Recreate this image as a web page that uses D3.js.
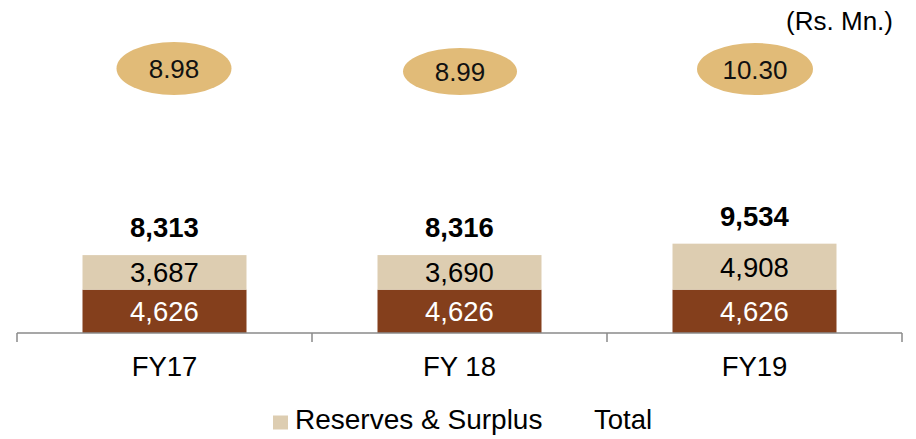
<!DOCTYPE html>
<html>
<head>
<meta charset="utf-8">
<script src="https://cdn.jsdelivr.net/npm/d3@7"></script>
<style>
  html, body { margin: 0; padding: 0; background: #fff; }
  svg { display: block; font-family: "Liberation Sans", Arial, sans-serif; }
</style>
</head>
<body>
<svg id="chart" width="916" height="439"></svg>
<script>
// Net worth composition (Rs. Mn.)
const categories = ["FY17", "FY 18", "FY19"];
const shareCapital = [4626, 4626, 4626];
const reservesSurplus = [3687, 3690, 4908];
const totals = [8313, 8316, 9534];
const ovalValues = ["8.98", "8.99", "10.30"];
const legendLabels = ["Reserves & Surplus", "Total"];

// Layout tweaks for the oval callouts (x nudge, centre y, radii)
const ovalLayout = [
  { dx: 9.5, cy: 68.5, rx: 57.5, ry: 26.5 },
  { dx: 0.5, cy: 71.5, rx: 57, ry: 23.5 },
  { dx: 0.5, cy: 69, rx: 58, ry: 26 }
];

const colors = { capital: "#843f1c", reserves: "#ddcdb1", oval: "#e1bb78", axis: "#8a8a8a" };

const svg = d3.select("#chart");
const axisY = 333;

const x = d3.scaleBand().domain(categories).range([17, 902]).paddingInner(0).paddingOuter(0);
const y = d3.scaleLinear().domain([0, 10000]).range([axisY, axisY - 93.7]);
const barW = 164;

const rows = categories.map((c, i) => ({
  cat: c, cap: shareCapital[i], res: reservesSurplus[i], total: totals[i],
  oval: ovalValues[i], lay: ovalLayout[i]
}));

const fmt = d3.format(",");
const cx = d => x(d.cat) + x.bandwidth() / 2;

// Share capital (bottom segment)
svg.selectAll("rect.cap").data(rows).join("rect")
  .attr("class", "cap")
  .attr("x", d => cx(d) - barW / 2)
  .attr("width", barW)
  .attr("y", d => y(d.cap))
  .attr("height", d => y(0) - y(d.cap))
  .attr("fill", colors.capital);

// Reserves & surplus (top segment)
svg.selectAll("rect.res").data(rows).join("rect")
  .attr("class", "res")
  .attr("x", d => cx(d) - barW / 2)
  .attr("width", barW)
  .attr("y", d => y(d.cap + d.res))
  .attr("height", d => y(d.cap) - y(d.cap + d.res))
  .attr("fill", colors.reserves);

// Segment labels
svg.selectAll("text.capLbl").data(rows).join("text")
  .attr("class", "capLbl")
  .attr("x", cx)
  .attr("y", d => (y(0) + y(d.cap)) / 2 + 10)
  .attr("text-anchor", "middle")
  .attr("font-size", 27.5)
  .attr("fill", "#fff")
  .text(d => fmt(d.cap));

svg.selectAll("text.resLbl").data(rows).join("text")
  .attr("class", "resLbl")
  .attr("x", cx)
  .attr("y", d => (y(d.cap) + y(d.cap + d.res)) / 2 + 10)
  .attr("text-anchor", "middle")
  .attr("font-size", 27.5)
  .attr("fill", "#000")
  .text(d => fmt(d.res));

// Totals above each bar
svg.selectAll("text.totLbl").data(rows).join("text")
  .attr("class", "totLbl")
  .attr("x", cx)
  .attr("y", d => y(d.total) - 18)
  .attr("text-anchor", "middle")
  .attr("font-size", 27.5)
  .attr("font-weight", "bold")
  .attr("fill", "#000")
  .text(d => fmt(d.total));

// Oval callouts
svg.selectAll("ellipse.oval").data(rows).join("ellipse")
  .attr("class", "oval")
  .attr("cx", d => cx(d) + d.lay.dx)
  .attr("cy", d => d.lay.cy)
  .attr("rx", d => d.lay.rx)
  .attr("ry", d => d.lay.ry)
  .attr("fill", colors.oval);

svg.selectAll("text.ovalLbl").data(rows).join("text")
  .attr("class", "ovalLbl")
  .attr("x", d => cx(d) + d.lay.dx)
  .attr("y", d => d.lay.cy + 9.5)
  .attr("text-anchor", "middle")
  .attr("font-size", 26)
  .attr("fill", "#111")
  .text(d => d.oval);

// Category axis with boundary ticks
const axisG = svg.append("g");
axisG.append("line")
  .attr("x1", 17).attr("x2", 902)
  .attr("y1", axisY).attr("y2", axisY)
  .attr("stroke", colors.axis).attr("stroke-width", 1.5);
const bounds = categories.map(c => x(c)).concat([x(categories[categories.length - 1]) + x.bandwidth()]);
axisG.selectAll("line.tick").data(bounds).join("line")
  .attr("class", "tick")
  .attr("x1", d => d).attr("x2", d => d)
  .attr("y1", axisY).attr("y2", axisY + 9)
  .attr("stroke", colors.axis).attr("stroke-width", 1.5);
axisG.selectAll("text.cat").data(categories).join("text")
  .attr("class", "cat")
  .attr("x", d => x(d) + x.bandwidth() / 2)
  .attr("y", 376)
  .attr("text-anchor", "middle")
  .attr("font-size", 27.5)
  .attr("fill", "#000")
  .text(d => d);

// Unit note
svg.append("text")
  .attr("x", 893).attr("y", 30)
  .attr("text-anchor", "end")
  .attr("font-size", 26)
  .attr("fill", "#000")
  .text("(Rs. Mn.)");

// Legend
const legend = svg.append("g");
legend.append("rect")
  .attr("x", 273).attr("y", 415.5)
  .attr("width", 15).attr("height", 14)
  .attr("fill", colors.reserves);
legend.append("text")
  .attr("x", 295).attr("y", 429)
  .attr("font-size", 28)
  .attr("fill", "#000")
  .text(legendLabels[0]);
legend.append("text")
  .attr("x", 594).attr("y", 429)
  .attr("font-size", 27.5)
  .attr("fill", "#000")
  .text(legendLabels[1]);
</script>
</body>
</html>
